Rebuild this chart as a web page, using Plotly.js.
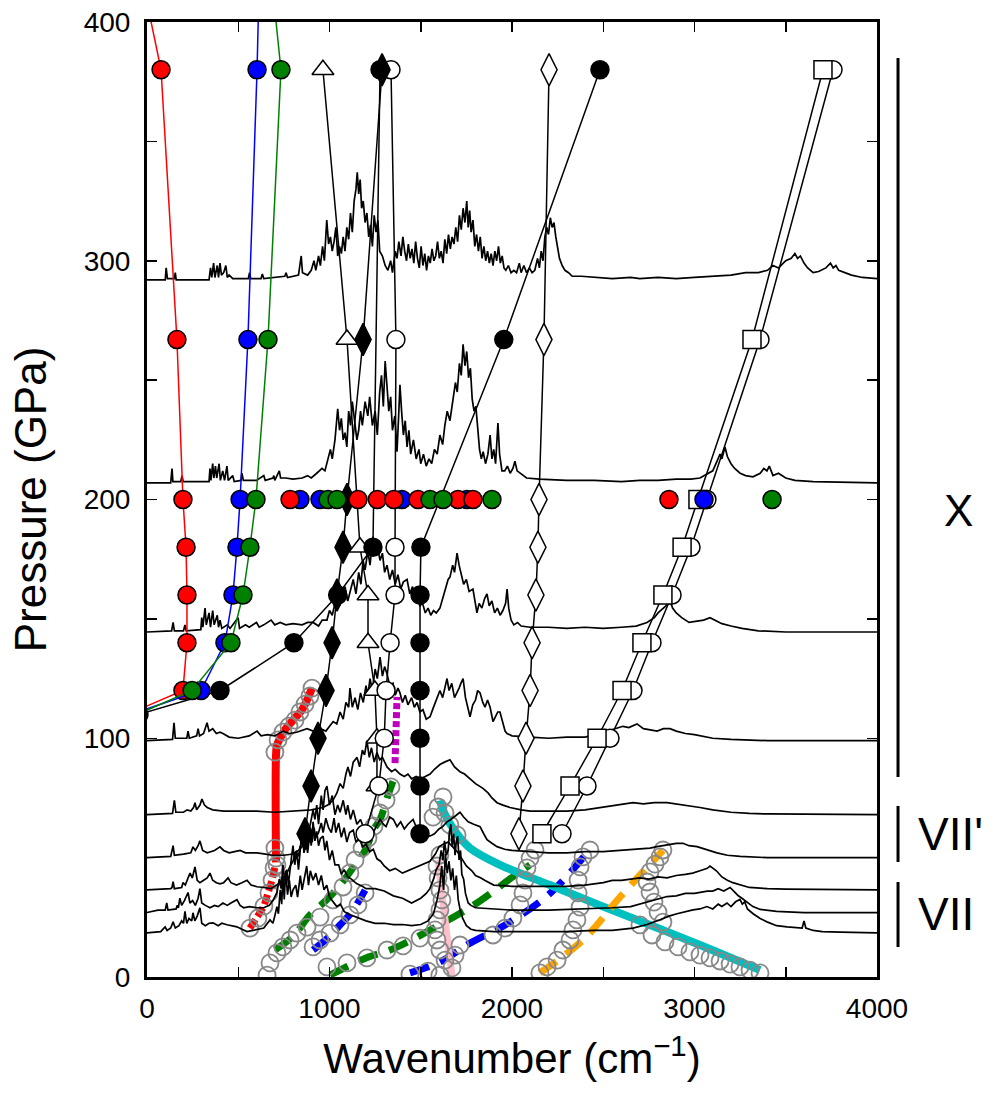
<!DOCTYPE html>
<html><head><meta charset="utf-8">
<script src="https://cdn.plot.ly/plotly-3.0.1.min.js"></script>
<style>html,body{margin:0;padding:0;background:#fff}</style>
</head><body><div id="chart" style="width:993px;height:1093px"></div>
<script>
// ---------- theory (computed) mode series ----------
const pressAll = [380,267,200,180,160,140,120,100,80,60];
const squareX = [3704,3315,3019,2932,2827,2712,2603,2466,2318,2164];
const circleRX = [3759,3359,3068,2981,2877,2767,2663,2537,2411,2274];
const openDiaX = [2203,2175,2148,2142,2131,2110,2099,2077,2060,2038];
const filledDiaX = [1288,1184,1096,1074,1041,1014,981,937,899,866];
const triP = [380,267,180,160,140,120,100,80];
const triX = [964,1096,1167,1211,1211,1249,1260,1260];
const openCircP = [380,267,180,160,140,120,100,80,60];
const openCircX = [1337,1364,1359,1359,1332,1310,1300,1270,1195];
const blackAP = [380,180,160,140,120,110];
const blackAX = [1277,1238,1045,805,400,-44];
const blackBP = [380,267,180,160,140,120,100,80,60];
const blackBX = [2482,1955,1501,1496,1496,1496,1496,1496,1496];
const lowP = [450,380,267,200,180,160,140,120,110];
const redModeX = [-114,77,164,197,214,219,219,197,-106];
const blueModeX = [625,603,553,510,493,471,427,296,-88];
const greenModeX = [640,734,663,597,564,526,460,247,-54];
// extra computed modes at 200 GPa
const red200 = [784,1156,1262,1353,1485,1704,1786,2860];
const blue200 = [838,948,1397,1753,3052];
const green200 = [992,1041,1551,1622,1890,3425];

// ---------- experimental fits (x, P) ----------
const redFitLow = [[564,20.5],[641,29.7],[685,40.6],[701,46]];
const redFitHigh = [[707,48],[707,93],[712,97],[729,100],[760,104],[800,107.6],[850,112],[904,121]];
const magentaFit = [[1359,89.6],[1370,117.3]];
const greenFitA = [[701,11.3],[800,17],[893,26],[980,32],[1058,38.5],[1140,47],[1195,53],[1244,62],[1277,66],[1320,76],[1348,82]];
const greenFitB = [[1003,0.8],[1100,4.5],[1200,8],[1332,11.3],[1450,15.5],[1551,19.7],[1700,26],[1808,31],[1900,36],[2005,42],[2099,47]];
const blueFitA = [[910,11.3],[1000,17],[1058,21.8],[1120,27],[1195,36.4]];
const blueFitB = [[1441,1.7],[1605,6.3],[1770,14.2],[1962,21.8],[2208,35],[2411,52]];
const pinkFit = [[1595,49],[1633,24],[1671,0.8]];
const cyanFit = [[1605,74],[1633,68],[1688,61],[1770,54],[1934,47],[2208,38.5],[2482,30],[2756,21.8],[3030,13.4],[3359,2.9]];
const orangeFit = [[2153,1.7],[2389,15.5],[2592,33.5],[2827,53]];

// ---------- experimental data points (x, P) ----------
const grayPts = [
[564,20.5],[608,24.7],[641,29.7],[668,35.2],[685,40.6],[696,45.7],[707,49.8],[701,54.0],[712,47],
[701,94.2],[718,99.3],[745,102.6],[778,105.1],[811,107.6],[838,111.0],[866,114.3],[893,117.7],[904,121.0],
[658,0.8],[674,5.9],[712,10.1],[745,12.6],[784,15.5],[822,18.4],[877,20.9],[948,25.1],[1019,32.3],[1074,37.7],
[1112,43.6],[1140,49.0],[1178,54.0],[1211,58.2],[1244,63.2],[1277,68.7],[1310,74.1],[1337,79.6],
[910,12.6],[948,15.5],[1003,18.4],[1058,21.8],[1112,26.0],[1156,30.2],[1195,35.2],
[986,4.2],[1096,5.9],[1205,8.0],[1315,11.3],[1403,13.0],[1496,16.3],
[1605,0.8],[1671,3.8],[1633,7.1],[1605,11.3],[1589,15.5],[1578,19.7],[1589,23.9],[1605,28.1],[1616,32.3],
[1605,36.4],[1595,41.5],[1589,46.5],[1605,51.1],[1688,9.2],[1715,13.4],[1441,1.2],[1540,2.5],
[1622,75.4],[1595,71.2],[1567,67.0],[1633,68.7],[1660,63.7],[1699,59.5],
[2701,21.8],[2767,17.6],[2838,14.7],[2910,12.6],[2975,10.5],[3030,9.2],[3085,8.0],[3140,6.7],[3195,5.4],
[3249,4.2],[3304,2.9],[3359,1.7],
[1896,17.6],[1962,20.5],[2005,24.7],[2044,30.2],[2060,35.2],[2071,40.6],[2082,45.7],[2099,49.8],[2126,53.2],
[2153,1.7],[2192,4.2],[2247,7.1],[2279,11.3],[2318,15.5],[2334,19.7],[2356,23.9],[2373,29.3],[2362,35.2],
[2362,40.6],[2373,46.1],[2389,50.3],[2427,53.2],
[2827,53.2],[2811,50.3],[2784,47.3],[2756,44.0],[2740,39.8],[2756,35.6],[2778,31.4],[2800,27.2],[2827,23.0]
];

// ---------- Raman spectra: baseline pressure and (x, height) ----------
const specBase = [292,207,144.5,99,68,50,36.5,27,18.5];
const spec1 = [[0,0],[100,0],[105,5],[112,0.5],[150,0.5],[155,3],[160,0],[340,0],[348,5],[355,1],[365,7],[372,1],[385,6],[392,1],[400,7],[408,2],[420,3],[432,6],[440,1],[450,2],[470,0.5],[555,0.5],[562,3],[568,0.5],[625,0.5],[632,2.5],[640,0.5],[700,1],[755,1.5],[762,3],[770,1],[830,2],[845,10],[852,3],[880,2],[900,4],[915,8],[925,4],[940,10],[950,6],[962,14],[972,8],[985,25],[995,15],[1005,18],[1015,12],[1025,16],[1035,22],[1045,10],[1055,14],[1065,11],[1075,18],[1085,12],[1095,22],[1105,17],[1115,28],[1125,20],[1135,33],[1145,38],[1152,45],[1160,36],[1168,42],[1176,30],[1185,33],[1195,24],[1205,28],[1215,18],[1225,23],[1235,14],[1245,27],[1255,20],[1265,25],[1275,12],[1290,10],[1305,6],[1320,4],[1335,8],[1345,3],[1360,12],[1370,9],[1380,16],[1392,10],[1402,18],[1412,12],[1422,8],[1432,15],[1442,9],[1452,13],[1462,7],[1472,16],[1482,9],[1492,5],[1502,14],[1512,6],[1522,11],[1532,4],[1542,10],[1552,7],[1562,13],[1572,8],[1582,10],[1592,16],[1602,9],[1612,12],[1622,7],[1632,17],[1642,11],[1652,19],[1662,13],[1672,18],[1682,15],[1692,22],[1702,16],[1712,27],[1722,21],[1732,30],[1742,24],[1752,33],[1760,22],[1768,29],[1776,20],[1786,25],[1796,14],[1806,19],[1816,12],[1826,18],[1836,9],[1846,14],[1856,8],[1866,12],[1876,7],[1886,11],[1896,6],[1906,12],[1916,8],[1926,14],[1936,7],[1946,10],[1956,5],[1966,4],[1980,6],[1995,3],[2010,4],[2025,3],[2040,7],[2050,3],[2065,6],[2080,3],[2095,5],[2110,3],[2125,4],[2140,9],[2150,5],[2160,12],[2170,8],[2180,18],[2190,22],[2200,19],[2210,26],[2220,22],[2230,24],[2240,18],[2250,14],[2260,9],[2275,6],[2290,4],[2310,3],[2330,1.5],[2380,1.5],[2450,1],[2550,0.5],[2650,1],[2700,0.5],[2800,1],[2900,0.5],[3000,1],[3100,1.5],[3200,2],[3280,3],[3350,3],[3400,4],[3430,6],[3460,5],[3500,8],[3530,9],[3550,11],[3565,9],[3580,10],[3600,7],[3620,5],[3650,3],[3680,3.5],[3720,5],[3745,7],[3760,5],[3775,6],[3790,4],[3820,3],[3860,2],[3920,1],[4000,0.5]];
const spec2 = [[0,0],[130,0],[137,6],[142,0.5],[185,0.5],[192,3],[198,0.5],[340,0.5],[345,6],[350,1],[360,8],[366,2],[375,7],[382,2],[395,8],[402,1],[415,5],[425,1],[438,7],[445,1],[470,3],[478,0.5],[515,1],[520,4],[528,1],[600,1],[640,3],[648,1],[690,2],[695,3],[700,1],[725,5],[732,2],[760,2],[800,1.5],[850,2],[880,3],[900,2],[930,4],[959,6],[975,5],[990,10],[1005,14],[1015,10],[1030,18],[1045,31],[1055,22],[1065,27],[1075,18],[1085,21],[1095,15],[1105,30],[1115,24],[1125,34],[1135,28],[1150,18],[1160,22],[1170,30],[1180,24],[1195,34],[1210,28],[1220,36],[1235,24],[1250,30],[1262,20],[1275,38],[1285,45],[1295,32],[1305,51],[1315,42],[1325,30],[1335,36],[1345,22],[1358,28],[1370,13],[1380,30],[1386,41],[1395,30],[1405,20],[1415,26],[1425,15],[1435,22],[1445,12],[1460,18],[1475,10],[1490,14],[1500,8],[1515,12],[1530,7],[1545,10],[1560,8],[1575,14],[1590,12],[1605,20],[1620,16],[1632,24],[1645,30],[1660,26],[1677,36],[1690,42],[1700,38],[1712,50],[1722,45],[1732,58],[1742,49],[1752,55],[1762,44],[1772,48],[1782,35],[1792,30],[1802,32],[1812,22],[1822,14],[1832,10],[1842,13],[1855,8],[1868,12],[1880,20],[1890,10],[1900,14],[1910,8],[1923,25],[1932,12],[1945,5],[1960,5],[1975,7],[1990,4],[2005,6],[2016,9],[2028,5],[2045,4],[2060,3],[2080,2],[2150,1.5],[2300,1],[2450,1],[2600,0.5],[2700,1],[2800,1],[2900,1.5],[2980,1.5],[3030,2],[3080,4],[3100,5],[3123,9],[3140,12],[3150,10],[3167,15],[3180,11],[3200,8],[3220,6],[3250,4],[3280,3],[3320,2.5],[3360,4],[3380,6],[3397,5],[3410,7],[3430,3],[3460,4],[3500,2],[3550,1],[3650,0.5],[4000,0]];
const spec3 = [[0,0],[135,0.5],[143,4],[150,0.5],[200,0.5],[208,3],[215,0.5],[295,1],[300,6],[306,2],[318,10],[325,3],[340,8],[348,2],[360,9],[368,3],[385,7],[392,2],[400,5],[410,1.5],[440,3],[455,1.5],[499,6],[507,1.5],[540,3],[560,2],[600,4],[615,2],[640,3],[680,5],[700,3],[730,4],[760,3],[800,3.5],[850,3],[880,4],[910,4],[940,2.5],[960,5],[986,5],[1000,9],[1015,7],[1030,12],[1041,17],[1055,11],[1070,15],[1085,19],[1100,13],[1115,18],[1130,22],[1145,16],[1160,25],[1172,20],[1184,30],[1195,26],[1210,34],[1222,28],[1238,40],[1250,32],[1262,36],[1277,30],[1290,33],[1302,25],[1315,28],[1330,22],[1345,26],[1360,20],[1375,24],[1390,18],[1405,21],[1425,22],[1440,16],[1455,19],[1470,14],[1479,15],[1495,11],[1510,12],[1525,8],[1540,10],[1555,7],[1570,9],[1585,8],[1605,10],[1620,14],[1635,18],[1650,22],[1660,23],[1675,28],[1685,25],[1699,33],[1710,28],[1722,24],[1735,20],[1750,22],[1765,17],[1786,18],[1797,12],[1808,8],[1820,12],[1835,10],[1850,14],[1863,16],[1875,11],[1890,13],[1905,8],[1920,10],[1935,7],[1950,9],[1965,12],[1973,18],[1982,10],[1995,5],[2010,3],[2030,4],[2050,2.5],[2100,2],[2200,2],[2300,1.5],[2400,2],[2500,1.5],[2600,2],[2680,2.5],[2740,4],[2780,6],[2800,8],[2827,10],[2845,11],[2866,13],[2880,10],[2900,8],[2930,6],[2970,4],[3010,4.5],[3050,5],[3085,6],[3110,5],[3150,3.5],[3200,2.5],[3260,1.5],[3350,0.5],[3500,0],[4000,0]];
const spec4 = [[0,0],[140,0.5],[148,7.5],[155,1],[218,1],[225,4],[232,1],[272,2],[280,5],[288,2],[310,3],[320,5],[329,7.5],[340,4],[360,5],[380,3],[400,3.5],[416,3],[450,1.5],[500,1],[560,2],[603,4],[625,2],[660,2.5],[700,2],[745,4],[780,3],[820,3.5],[877,5],[910,4],[950,5],[980,4],[1000,6],[1020,8],[1040,7],[1058,12],[1075,9],[1090,16],[1105,14],[1112,22],[1125,14],[1140,18],[1155,13],[1170,20],[1185,16],[1200,23],[1210,19],[1222,26],[1235,21],[1250,30],[1262,26],[1277,35],[1290,27],[1302,31],[1315,28],[1330,23],[1348,24],[1360,19],[1375,22],[1386,20],[1400,16],[1415,19],[1430,15],[1450,18],[1465,14],[1480,16],[1495,12],[1512,13],[1530,9],[1551,10],[1565,13],[1580,16],[1595,19],[1605,21],[1620,18],[1635,24],[1644,26],[1655,21],[1670,24],[1685,18],[1699,20],[1710,22],[1720,24],[1732,26],[1745,18],[1758,14],[1770,10],[1785,15],[1800,17],[1812,21],[1825,20],[1840,16],[1852,14],[1866,17],[1880,14],[1896,8],[1910,10],[1922,12],[1934,12],[1950,7],[1962,4],[1973,3],[2000,2],[2100,1.5],[2200,1],[2300,1.5],[2400,1.5],[2460,2.5],[2520,4],[2560,5],[2608,6],[2640,5.5],[2685,7],[2720,5],[2760,4.5],[2795,4],[2830,5],[2866,5],[2900,4],[2950,3],[3000,2.5],[3100,1],[3200,0.5],[3400,0],[4000,0]];
const spec5 = [[0,0],[140,0.5],[150,6],[158,1],[200,1],[220,2],[240,1.5],[255,3],[263,5],[272,2],[290,4],[301,6.5],[315,4],[330,3],[360,2],[420,1.5],[500,1.5],[600,1.5],[700,1],[800,1.5],[900,2],[964,3],[990,4],[1019,6],[1040,9],[1058,13],[1075,11],[1090,17],[1101,20],[1115,16],[1130,22],[1151,24],[1165,20],[1180,27],[1192,25],[1205,31],[1218,24],[1230,28],[1245,22],[1260,26],[1275,23],[1290,24],[1315,20],[1340,18],[1360,19],[1386,17],[1410,16],[1430,17],[1450,15],[1475,16],[1500,15],[1525,16],[1551,17],[1575,19],[1605,21],[1630,22],[1660,23],[1685,20],[1715,18],[1740,17],[1770,15],[1800,13],[1841,11],[1870,9],[1890,7],[1918,5],[1950,4],[1989,3],[2050,2],[2100,1.5],[2200,1.5],[2300,1.5],[2400,2],[2480,3],[2575,4],[2620,4.5],[2663,5],[2720,4.5],[2780,5],[2849,5],[2900,4.5],[2950,4],[3030,3],[3100,2],[3200,1],[3300,0.5],[3400,0.3],[4000,0]];
const spec6 = [[0,0],[130,0.5],[143,5],[150,1],[200,1.5],[240,2],[252,4.5],[265,3],[280,5],[290,7],[305,3],[330,2],[370,3],[400,4.5],[420,3],[450,2],[480,2.5],[510,3],[540,2],[603,2],[650,1.5],[690,1],[750,1],[800,1.5],[830,3],[855,5],[870,8],[880,10],[895,14],[910,20],[920,16],[930,22],[940,14],[955,26],[965,20],[975,28],[986,30],[1000,22],[1015,26],[1030,18],[1045,22],[1058,19],[1075,24],[1090,18],[1100,22],[1115,16],[1130,20],[1150,14],[1170,16],[1190,12],[1210,13],[1238,10],[1255,13],[1277,16],[1295,14],[1310,13],[1330,17],[1350,16],[1370,13],[1390,15],[1410,12],[1430,14],[1458,16],[1480,12],[1500,11],[1525,10],[1550,9],[1575,10],[1600,12],[1620,13],[1644,15],[1665,16],[1680,17],[1700,18],[1715,19],[1735,17],[1760,15],[1790,14],[1825,13],[1845,10],[1863,7.5],[1890,6],[1918,4.6],[1960,3.5],[2000,3],[2100,2.5],[2200,2],[2300,2],[2400,2.5],[2500,2.5],[2575,3],[2650,3.4],[2756,4],[2795,4.6],[2850,5.5],[2900,6],[2937,6],[2970,5],[3014,4.6],[3060,3.5],[3123,2],[3180,1],[3250,0.5],[3400,0],[4000,0]];
const spec7 = [[0,0],[130,0.5],[137,1],[143,3.4],[150,0.5],[190,1],[197,3],[210,2],[225,5],[236,7],[248,5],[263,9.6],[275,4],[290,3],[310,4],[330,5],[345,7],[360,4],[380,3],[400,2.5],[420,3],[444,5],[460,3],[490,2],[520,3],[548,4],[570,2],[603,1.3],[640,1],[680,0.5],[710,2],[729,3],[745,5],[767,7],[785,10],[800,12],[815,16],[830,14],[838,18],[850,20],[865,18],[877,21],[892,24],[905,20],[915,26],[925,22],[940,24],[955,28],[965,24],[980,30],[995,26],[1010,24],[1025,30],[1035,24],[1050,28],[1065,22],[1080,26],[1095,20],[1110,24],[1130,25],[1145,20],[1165,22],[1180,18],[1200,19],[1220,16],[1240,17],[1260,13],[1280,12],[1300,10],[1330,8],[1360,9],[1400,7],[1430,8],[1460,9],[1480,10],[1510,11],[1550,12],[1580,15],[1600,18],[1620,19],[1650,20],[1675,18],[1700,16],[1725,13],[1750,10],[1780,8],[1800,6],[1830,5],[1850,4],[1900,2],[2000,1.5],[2100,1.5],[2200,1.5],[2300,1.5],[2400,2],[2500,3],[2550,4],[2600,4],[2650,4.5],[2700,5],[2750,4.5],[2800,5.4],[2850,5],[2900,6],[2950,6.5],[2990,7],[3030,8],[3070,9],[3085,10],[3100,9],[3120,8],[3150,5.4],[3180,4],[3210,3],[3250,2],[3300,1],[3400,0.5],[3500,0.3],[4000,0]];
const spec8 = [[0,0],[60,1],[100,1],[108,4],[115,1],[160,1.5],[165,3],[172,2],[180,6],[190,3],[205,5],[215,7],[225,8.4],[235,4],[250,5],[265,3],[280,6],[290,10],[300,4],[320,3],[345,2],[370,3],[390,2.5],[416,4],[440,3],[460,4],[493,5.4],[510,3],[530,2],[560,2.5],[603,2],[640,2],[670,3],[690,5],[712,8.4],[725,14],[735,10],[745,20],[755,13],[765,18],[775,12],[790,22],[800,28],[810,20],[820,26],[830,18],[842,30],[850,35],[860,25],[870,30],[880,25],[892,33],[900,28],[910,38],[920,30],[930,34],[940,28],[950,31],[965,32],[975,26],[985,30],[1000,22],[1015,26],[1030,20],[1050,20],[1065,16],[1080,18],[1100,15],[1120,14],[1150,12],[1180,11],[1200,10],[1250,10],[1300,9],[1350,7],[1400,6],[1450,4],[1480,5],[1500,6],[1530,8],[1550,10],[1570,14],[1585,18],[1600,20],[1612,26],[1622,22],[1630,30],[1640,24],[1650,26],[1658,34],[1665,37],[1672,28],[1680,33],[1688,24],[1695,30],[1702,32],[1710,22],[1718,26],[1725,16],[1735,14],[1745,8],[1760,4],[1775,3],[1800,2],[1900,1.5],[2000,1],[2200,1],[2400,1.5],[2550,2],[2650,2.5],[2700,3.5],[2780,5],[2849,6.7],[2900,7],[2950,8],[3000,8],[3030,8.4],[3070,9],[3100,9],[3130,10],[3160,9],[3195,10.5],[3215,9],[3240,7],[3260,6],[3288,4.2],[3320,2.5],[3360,1.3],[3450,0.5],[3600,0],[4000,0]];
const spec9 = [[0,0],[75,0.5],[99,2.5],[110,1],[130,2],[143,4.6],[155,2],[175,3],[190,5],[200,4],[208,9],[218,4],[230,6],[245,5],[252,8.4],[262,5],[275,7],[290,10.5],[300,4],[320,3],[340,4],[362,4.2],[390,3],[410,4],[438,3.4],[465,3],[493,2.5],[520,1.5],[548,0.5],[580,1],[610,1.5],[640,2],[674,5.4],[690,4],[700,7],[712,11],[720,8],[730,18],[738,12],[745,24],[752,14],[760,26],[770,16],[780,22],[790,15],[800,18],[815,20],[825,15],[840,24],[850,18],[860,22],[875,28],[885,20],[895,26],[910,22],[925,25],[940,20],[955,24],[970,18],[985,20],[1000,15],[1020,13],[1040,11],[1060,12],[1080,9],[1100,8],[1130,7],[1160,6],[1200,5],[1250,4],[1300,4],[1350,3.4],[1400,3.5],[1450,3],[1500,3.5],[1540,5],[1570,8],[1590,14],[1605,20],[1615,28],[1625,18],[1635,33],[1645,25],[1655,30],[1665,22],[1675,27],[1685,18],[1695,24],[1705,14],[1715,10],[1730,6],[1750,3],[1775,1.5],[1800,1],[1900,0.5],[2100,0.5],[2300,0.5],[2450,1],[2550,1],[2663,2],[2740,3.5],[2811,5.5],[2860,7],[2904,8],[2950,9],[2992,9.6],[3030,10],[3068,11],[3100,10],[3130,12],[3150,11],[3178,12.5],[3200,11],[3225,13],[3249,14],[3262,12],[3275,13],[3290,10],[3321,8],[3360,6],[3397,4.6],[3450,3],[3507,2.5],[3560,2],[3590,2],[3600,5],[3610,2],[3650,1],[3700,0.5],[3800,0.3],[4000,0]];
const spectra = [spec1,spec2,spec3,spec4,spec5,spec6,spec7,spec8,spec9];

// ---------- build traces ----------
const traces = [];
function fit(pts, color, width, dash, shape) {
  traces.push({x: pts.map(p=>p[0]), y: pts.map(p=>p[1]), mode:'lines', hoverinfo:'skip',
    line:{color:color, width:width, dash:dash||'solid', shape:shape||'linear'}});
}
fit(redFitLow,'#ff0000',7,'10px,4px');
fit(redFitHigh,'#ff0000',8,'solid','spline');
fit(magentaFit,'#bf00bf',7,'6px,3px');
fit(greenFitA,'#008000',7,'20px,12px','spline');
fit(greenFitB,'#008000',7,'20px,12px','spline');
fit(blueFitA,'#0000ff',7,'20px,12px','spline');
fit(blueFitB,'#0000ff',7,'20px,12px','spline');
fit(pinkFit,'#ffc0cb',7,'solid','spline');
fit(cyanFit,'#00bfbf',8,'solid','spline');
fit(orangeFit,'#ffa500',7,'20px,12px','spline');

traces.push({x: grayPts.map(p=>p[0]), y: grayPts.map(p=>p[1]), mode:'markers', hoverinfo:'skip',
  marker:{symbol:'circle-open', size:17, color:'#888888', line:{width:1.8, color:'#888888'}}});

spectra.forEach((s,i)=>{
  traces.push({x: s.map(p=>p[0]), y: s.map(p=>specBase[i]+p[1]), mode:'lines', hoverinfo:'skip',
    line:{color:'#000', width:1.7}});
});

function series(xs, ys, symbol, fill, size, lineColor) {
  traces.push({x: xs, y: ys, mode:'lines+markers', hoverinfo:'skip',
    line:{color: lineColor||'#000', width:1.5},
    marker:{symbol:symbol, size:size, color:fill, line:{color:'#000', width:1.5}}});
}
series(openDiaX, pressAll, 'diamond-tall', '#fff', 23);
series(circleRX, pressAll, 'circle', '#fff', 18);
series(squareX, pressAll, 'square', '#fff', 18);
series(triX, triP, 'triangle-up', '#fff', 19);
series(openCircX, openCircP, 'circle', '#fff', 18);
series(filledDiaX, pressAll, 'diamond-tall', '#000', 23);
series(blackAX, blackAP, 'circle', '#000', 18);
series(blackBX, blackBP, 'circle', '#000', 18);
series(redModeX, lowP, 'circle', '#ff0000', 18, '#ff0000');
series(blueModeX, lowP, 'circle', '#0000ff', 18, '#0000ff');
series(greenModeX, lowP, 'circle', '#008000', 18, '#008000');

function dots(xs, color) {
  traces.push({x: xs, y: xs.map(()=>200), mode:'markers', hoverinfo:'skip',
    marker:{symbol:'circle', size:18, color:color, line:{color:'#000', width:1.5}}});
}
dots(blue200,'#0000ff');
dots(red200,'#ff0000');
dots(green200,'#008000');

const font = 'Liberation Sans, Arial, sans-serif';
const axisCommon = {
  showline:true, linewidth:3, linecolor:'#000', mirror:'allticks',
  ticks:'inside', ticklen:10, tickwidth:1.5, tickcolor:'#000',
  showgrid:false, zeroline:false, tickfont:{family:font, size:28, color:'#000'}
};
const layout = {
  width:993, height:1093,
  margin:{l:147, r:116, t:22, b:116},
  paper_bgcolor:'#fff', plot_bgcolor:'#fff',
  showlegend:false,
  font:{family:font, color:'#000'},
  xaxis: Object.assign({}, axisCommon, {range:[0,4000], tick0:0, dtick:1000, ticklabelstandoff:4,
    minor:{dtick:500, ticks:'inside', ticklen:10, tickwidth:1.5, tickcolor:'#000'},
    title:{text:'Wavenumber (cm<sup>−1</sup>)', font:{family:font, size:42}, standoff:22}}),
  yaxis: Object.assign({}, axisCommon, {range:[0,400], tick0:0, dtick:100, ticklabelstandoff:8,
    minor:{dtick:50, ticks:'inside', ticklen:10, tickwidth:1.5, tickcolor:'#000'},
    title:{text:'Pressure (GPa)', font:{family:font, size:44}, standoff:24}}),
  shapes:[
    {type:'line', xref:'paper', yref:'paper', x0:1.0288, x1:1.0288, y0:0.2094, y1:0.9623, line:{color:'#000', width:3}},
    {type:'line', xref:'paper', yref:'paper', x0:1.0288, x1:1.0288, y0:0.1204, y1:0.1791, line:{color:'#000', width:3}},
    {type:'line', xref:'paper', yref:'paper', x0:1.0288, x1:1.0288, y0:0.0314, y1:0.0995, line:{color:'#000', width:3}}
  ],
  annotations:[
    {text:'X', xref:'paper', yref:'paper', x:1.111, y:0.489, showarrow:false, xanchor:'center', yanchor:'middle', font:{family:font, size:44}},
    {text:"VII'", xref:'paper', yref:'paper', x:1.054, y:0.1497, showarrow:false, xanchor:'left', yanchor:'middle', font:{family:font, size:46}},
    {text:'VII', xref:'paper', yref:'paper', x:1.054, y:0.0655, showarrow:false, xanchor:'left', yanchor:'middle', font:{family:font, size:46}}
  ]
};
Plotly.newPlot('chart', traces, layout, {displayModeBar:false, staticPlot:true});
</script></body></html>
